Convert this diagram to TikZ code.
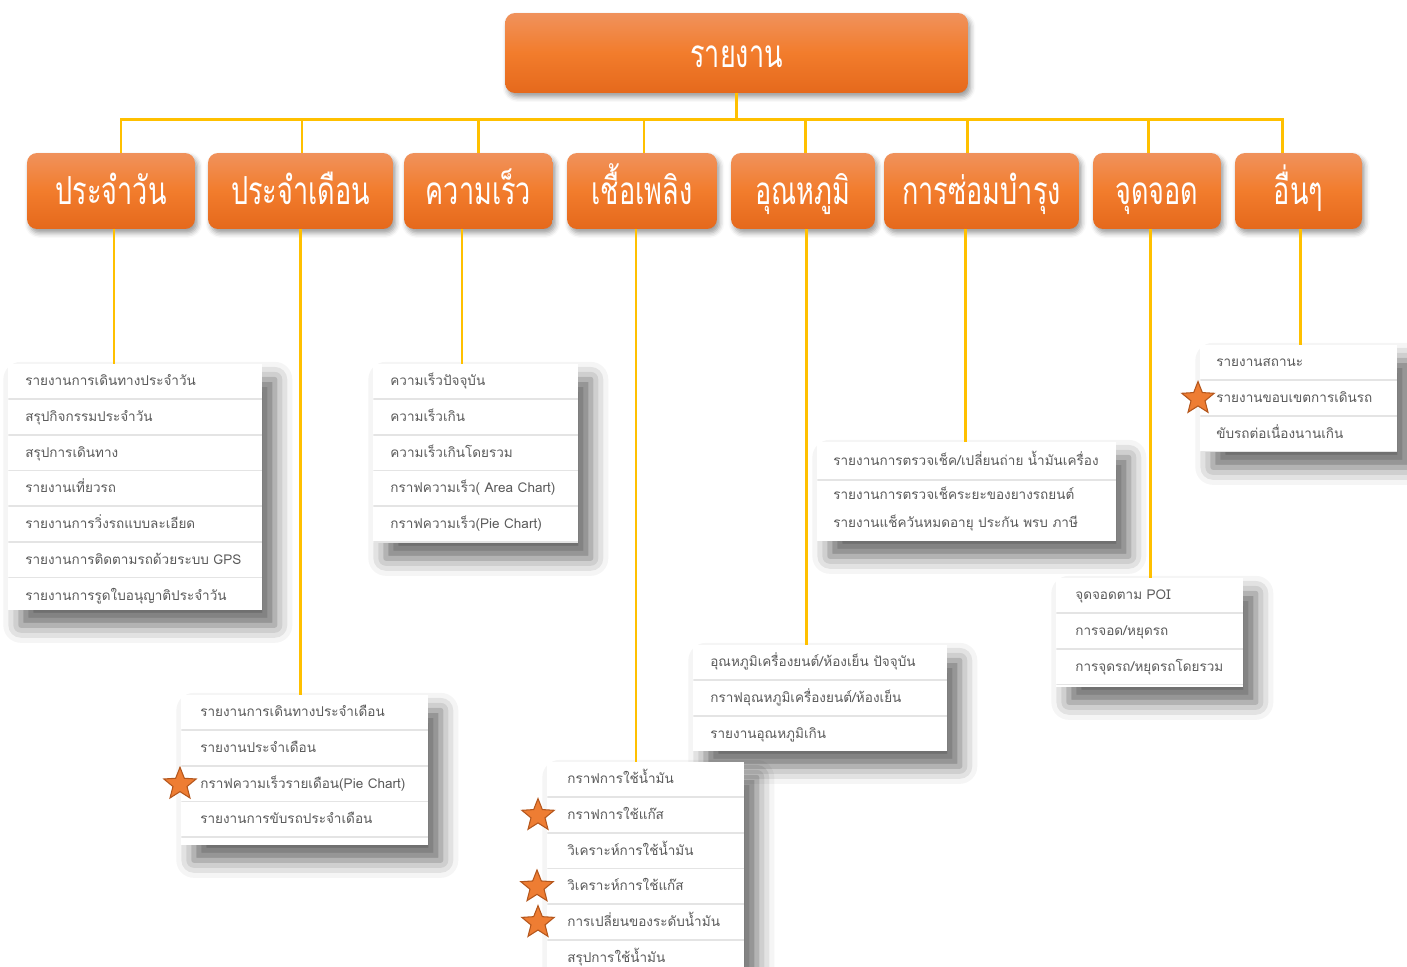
\documentclass[tikz,border=0pt]{standalone}
\usepackage{fontspec}
\setmainfont[Script=Thai]{Loma}
\newfontfamily\boxfont[Script=Thai,FakeStretch=0.7]{Loma}
\usepackage{tikz}
\usepackage{xcolor}
\usetikzlibrary{positioning,shapes.geometric,shadows.blur}
\definecolor{linegold}{HTML}{FFC000}
\definecolor{orangetop}{HTML}{F0925C}
\definecolor{orangemid}{HTML}{F27C2C}
\definecolor{orangebot}{HTML}{E5691C}
\definecolor{itemgray}{HTML}{5A5A5A}
\definecolor{rulegray}{HTML}{E4E4E4}
\definecolor{starfill}{HTML}{EE7D33}
\definecolor{starline}{HTML}{B4561C}

\begin{document}
\begin{tikzpicture}[x=0.02cm,y=-0.02cm,
    head/.style={rounded corners=0.2cm,top color=orangetop,bottom color=orangebot,middle color=orangemid,
      text=white,font=\boxfont\fontsize{22}{26}\selectfont,minimum height=1.52cm,inner sep=0pt,
      text height=0.7cm,text depth=0.18cm,
      blur shadow={shadow xshift=0.05cm,shadow yshift=-0.08cm,shadow blur radius=0.1cm,shadow opacity=40}},
    link/.style={draw=linegold,line width=1.7pt},
    panel/.style={fill=white,inner sep=0pt,anchor=north west,
      blur shadow={shadow xshift=0.25cm,shadow yshift=-0.3cm,shadow blur radius=0.35cm,shadow opacity=60}},
    item/.style={inner ysep=0pt,minimum height=0.7cm,align=left,text=itemgray,font=\fontsize{7.7}{9}\selectfont,
      text height=0.2cm,text depth=0.04cm},
    row/.style={item,path picture={\draw[rulegray,line width=1.2pt] (path picture bounding box.south west) -- (path picture bounding box.south east);}},
    favstar/.style={star,star points=5,star point ratio=2.3,minimum size=0.68cm,inner sep=0pt,fill=starfill,draw=starline,line width=0.6pt}]

  \useasboundingbox (0,0) rectangle (1407,967);

  \node[head,minimum width=9.26cm,minimum height=1.6cm,text height=0.74cm] (rep) at (736.5,53) {รายงาน};

  \node[head,minimum width=3.36cm] (daily) at (111,191) {ประจำวัน};
  \node[head,minimum width=3.7cm] (monthly) at (300.5,191) {ประจำเดือน};
  \node[head,minimum width=2.98cm] (speed) at (478.5,191) {ความเร็ว};
  \node[head,minimum width=3cm] (fuel) at (642,191) {เชื้อเพลิง};
  \node[head,minimum width=2.88cm] (temp) at (803,191) {อุณหภูมิ};
  \node[head,minimum width=3.9cm] (service) at (981.5,191) {การซ่อมบำรุง};
  \node[head,minimum width=2.56cm] (park) at (1157,191) {จุดจอด};
  \node[head,minimum width=2.54cm] (misc) at (1298.5,191) {อื่นๆ};

  \node[panel,minimum width=5.08cm,minimum height=4.92cm] (dl) at (8,364) {};
  \node[row,text width=4.4cm,inner xsep=0.34cm,anchor=north west] (dl1) at (dl.north west) {รายงานการเดินทางประจำวัน};
  \node[row,text width=4.4cm,inner xsep=0.34cm,below=0pt of dl1] (dl2) {สรุปกิจกรรมประจำวัน};
  \node[row,text width=4.4cm,inner xsep=0.34cm,below=0pt of dl2] (dl3) {สรุปการเดินทาง};
  \node[row,text width=4.4cm,inner xsep=0.34cm,below=0pt of dl3] (dl4) {รายงานเที่ยวรถ};
  \node[row,text width=4.4cm,inner xsep=0.34cm,below=0pt of dl4] (dl5) {รายงานการวิ่งรถแบบละเอียด};
  \node[row,text width=4.4cm,inner xsep=0.34cm,below=0pt of dl5] (dl6) {รายงานการติดตามรถด้วยระบบ GPS};
  \node[item,text width=4.4cm,inner xsep=0.34cm,below=0pt of dl6] (dl7) {รายงานการรูดใบอนุญาติประจำวัน};

  \node[panel,minimum width=4.94cm,minimum height=3cm] (ml) at (181,695) {};
  \node[row,text width=4.18cm,inner xsep=0.38cm,anchor=north west] (ml1) at (ml.north west) {รายงานการเดินทางประจำเดือน};
  \node[row,text width=4.18cm,inner xsep=0.38cm,below=0pt of ml1] (ml2) {รายงานประจำเดือน};
  \node[row,text width=4.18cm,inner xsep=0.38cm,below=0pt of ml2] (ml3) {กราฟความเร็วรายเดือน(Pie Chart)};
  \node[row,text width=4.18cm,inner xsep=0.38cm,below=0pt of ml3] (ml4) {รายงานการขับรถประจำเดือน};

  \node[panel,minimum width=4.1cm,minimum height=3.58cm] (sl) at (373,364) {};
  \node[row,text width=3.42cm,inner xsep=0.34cm,anchor=north west] (sl1) at (sl.north west) {ความเร็วปัจจุบัน};
  \node[row,text width=3.42cm,inner xsep=0.34cm,below=0pt of sl1] (sl2) {ความเร็วเกิน};
  \node[row,text width=3.42cm,inner xsep=0.34cm,below=0pt of sl2] (sl3) {ความเร็วเกินโดยรวม};
  \node[row,text width=3.42cm,inner xsep=0.34cm,below=0pt of sl3] (sl4) {กราฟความเร็ว( Area Chart)};
  \node[row,text width=3.42cm,inner xsep=0.34cm,below=0pt of sl4] (sl5) {กราฟความเร็ว(Pie Chart)};

  \node[panel,minimum width=5.08cm,minimum height=2.12cm] (tl) at (693,645) {};
  \node[row,text width=4.4cm,inner xsep=0.34cm,anchor=north west] (tl1) at (tl.north west) {อุณหภูมิเครื่องยนต์/ห้องเย็น ปัจจุบัน};
  \node[row,text width=4.4cm,inner xsep=0.34cm,below=0pt of tl1] (tl2) {กราฟอุณหภูมิเครื่องยนต์/ห้องเย็น};
  \node[item,text width=4.4cm,inner xsep=0.34cm,below=0pt of tl2] (tl3) {รายงานอุณหภูมิเกิน};

  \node[panel,minimum width=3.94cm,minimum height=4.4cm] (fl) at (547,762) {};
  \node[row,text width=3.14cm,inner xsep=0.4cm,anchor=north west] (fl1) at (fl.north west) {กราฟการใช้น้ำมัน};
  \node[row,text width=3.14cm,inner xsep=0.4cm,below=0pt of fl1] (fl2) {กราฟการใช้แก๊ส};
  \node[row,text width=3.14cm,inner xsep=0.4cm,below=0pt of fl2] (fl3) {วิเคราะห์การใช้น้ำมัน};
  \node[row,text width=3.14cm,inner xsep=0.4cm,below=0pt of fl3] (fl4) {วิเคราะห์การใช้แก๊ส};
  \node[row,text width=3.14cm,inner xsep=0.4cm,below=0pt of fl4] (fl5) {การเปลี่ยนของระดับน้ำมัน};
  \node[row,text width=3.14cm,inner xsep=0.4cm,below=0pt of fl5] (fl6) {สรุปการใช้น้ำมัน};

  \node[panel,minimum width=5.98cm,minimum height=1.98cm] (vl) at (817,442) {};
  \node[row,text width=5.34cm,inner xsep=0.32cm,minimum height=0.76cm,anchor=north west] (vl1) at (vl.north west) {รายงานการตรวจเช็ค/เปลี่ยนถ่าย น้ำมันเครื่อง};
  \node[item,text width=5.34cm,inner xsep=0.32cm,minimum height=0.56cm,below=0pt of vl1] (vl2) {รายงานการตรวจเช็คระยะของยางรถยนต์};
  \node[item,text width=5.34cm,inner xsep=0.32cm,minimum height=0.56cm,below=0pt of vl2] (vl3) {รายงานแช็ควันหมดอายุ ประกัน พรบ ภาษี};

  \node[panel,minimum width=3.74cm,minimum height=2.18cm] (pl) at (1056,578) {};
  \node[row,text width=2.98cm,inner xsep=0.38cm,anchor=north west] (pl1) at (pl.north west) {จุดจอดตาม POI};
  \node[row,text width=2.98cm,inner xsep=0.38cm,below=0pt of pl1] (pl2) {การจอด/หยุดรถ};
  \node[row,text width=2.98cm,inner xsep=0.38cm,below=0pt of pl2] (pl3) {การจุดรถ/หยุดรถโดยรวม};

  \node[panel,minimum width=3.94cm,minimum height=2.14cm] (ol) at (1200,345) {};
  \node[row,text width=3.3cm,inner xsep=0.32cm,anchor=north west] (ol1) at (ol.north west) {รายงานสถานะ};
  \node[row,text width=3.3cm,inner xsep=0.32cm,below=0pt of ol1] (ol2) {รายงานขอบเขตการเดินรถ};
  \node[row,text width=3.3cm,inner xsep=0.32cm,below=0pt of ol2] (ol3) {ขับรถต่อเนื่องนานเกิน};

  \node[favstar] (s1) at ([shift={(-1,0)}]ml3.west) {};
  \node[favstar] (s2) at ([shift={(-9,0)}]fl2.west) {};
  \node[favstar] (s3) at ([shift={(-10,0)}]fl4.west) {};
  \node[favstar] (s4) at ([shift={(-9,0)}]fl5.west) {};
  \node[favstar] (s5) at ([shift={(-2,0)}]ol2.west) {};

  \coordinate (bus) at ([shift={(0,26)}]rep.south);
  \coordinate (u1) at ([shift={(10,0)}]daily.north);
  \coordinate (u2) at ([shift={(1.5,0)}]monthly.north);
  \coordinate (u3) at (speed.north);
  \coordinate (u4) at ([shift={(2,0)}]fuel.north);
  \coordinate (u5) at ([shift={(2,0)}]temp.north);
  \coordinate (u6) at ([shift={(-14.5,0)}]service.north);
  \coordinate (u7) at ([shift={(-9,0)}]park.north);
  \coordinate (u8) at ([shift={(-16.5,0)}]misc.north);
  \draw[link] (rep.south) -- (bus);
  \draw[link] (u1) |- (u8 |- bus) -- (u8);
  \draw[link] (u2) -- (u2 |- bus);
  \draw[link] (u3) -- (u3 |- bus);
  \draw[link] (u4) -- (u4 |- bus);
  \draw[link] (u5) -- (u5 |- bus);
  \draw[link] (u6) -- (u6 |- bus);
  \draw[link] (u7) -- (u7 |- bus);

  \coordinate (d1) at ([shift={(3,0)}]daily.south);
  \coordinate (d2) at (monthly.south);
  \coordinate (d3) at ([shift={(-16.5,0)}]speed.south);
  \coordinate (d4) at ([shift={(-6,0)}]fuel.south);
  \coordinate (d5) at ([shift={(3,0)}]temp.south);
  \coordinate (d6) at ([shift={(-16.5,0)}]service.south);
  \coordinate (d7) at ([shift={(-7,0)}]park.south);
  \coordinate (d8) at ([shift={(1.5,0)}]misc.south);
  \draw[link] (d1) -- (d1 |- dl.north);
  \draw[link] (d2) -- (d2 |- ml.north);
  \draw[link] (d3) -- (d3 |- sl.north);
  \draw[link] (d4) -- (d4 |- fl.north);
  \draw[link] (d5) -- (d5 |- tl.north);
  \draw[link] (d6) -- (d6 |- vl.north);
  \draw[link] (d7) -- (d7 |- pl.north);
  \draw[link] (d8) -- (d8 |- ol.north);
\end{tikzpicture}
\end{document}
